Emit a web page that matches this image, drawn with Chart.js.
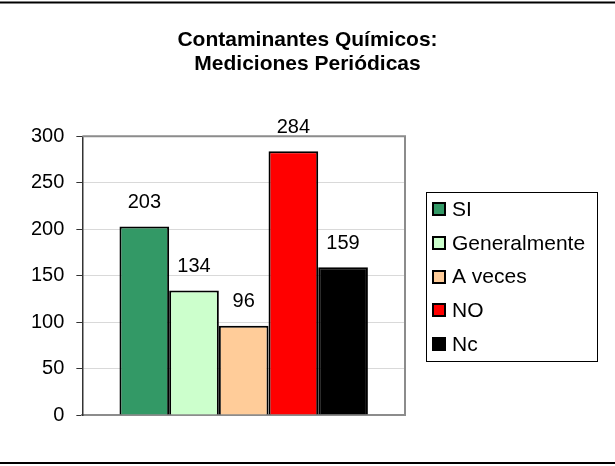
<!DOCTYPE html>
<html>
<head>
<meta charset="utf-8">
<script src="https://cdn.jsdelivr.net/npm/chart.js@4.4.0/dist/chart.umd.min.js"></script>
<style>
body { margin: 0; background: #fff; }
#wrap { width: 615px; height: 466px; position: relative; }
</style>
</head>
<body>
<div id="wrap"><canvas id="myChart"></canvas></div>
<script>
const titleLines = ['Contaminantes Químicos:', 'Mediciones Periódicas'];
const categories = [''];
const seriesNames = ['SI', 'Generalmente', 'A veces', 'NO', 'Nc'];
const seriesValues = [203, 134, 96, 284, 159];
const yTicks = [0, 50, 100, 150, 200, 250, 300];
const seriesColors = ['#339966', '#ccffcc', '#ffcc99', '#ff0000', '#000000'];

const font = '"Liberation Sans", Arial, sans-serif';
const axisGray = '#8c8c8c';

// title is centred on the whole canvas, not only the plot side
const wideTitle = {
    id: 'wideTitle',
    afterLayout(chart) {
        chart.titleBlock.left = 0;
        chart.titleBlock.right = chart.width;
        chart.titleBlock.width = chart.width;
    }
};

// excel-like legend in a box to the right of the plot
const boxLegend = {
    id: 'boxLegend',
    afterDraw(chart) {
        const { ctx, chartArea: a } = chart;
        const datasets = chart.data.datasets;
        const rowH = 33.7;
        const left = a.right + 21;
        const boxW = 171;
        const cy = (a.top + a.bottom) / 2 + 1;
        const top = cy - rowH * datasets.length / 2;
        ctx.save();
        ctx.strokeStyle = '#000';
        ctx.lineWidth = 1;
        ctx.strokeRect(left + 0.5, Math.round(top) + 0.5, boxW, Math.round(rowH * datasets.length));
        ctx.font = '21px ' + font;
        ctx.textBaseline = 'middle';
        ctx.textAlign = 'left';
        datasets.forEach((ds, i) => {
            const y = top + rowH * (i + 0.5);
            ctx.fillStyle = ds.backgroundColor;
            ctx.fillRect(left + 7, Math.round(y - 6), 12, 12);
            ctx.lineWidth = 2;
            ctx.strokeStyle = '#000';
            ctx.strokeRect(left + 7, Math.round(y - 6), 12, 12);
            ctx.fillStyle = '#000';
            ctx.fillText(ds.label, left + 26, y + 1);
        });
        ctx.restore();
    }
};

const decorations = {
    id: 'decorations',
    beforeDatasetsDraw(chart) {
        const { ctx, chartArea: a } = chart;
        ctx.save();
        ctx.strokeStyle = axisGray;
        ctx.lineWidth = 2;
        ctx.beginPath();
        ctx.moveTo(a.left, a.top);
        ctx.lineTo(a.right, a.top);
        ctx.lineTo(a.right, a.bottom);
        ctx.stroke();
        ctx.restore();
    },
    afterDraw(chart) {
        const { ctx, width } = chart;
        ctx.save();
        // outer frame lines
        ctx.strokeStyle = '#000';
        ctx.lineWidth = 2;
        ctx.beginPath();
        ctx.moveTo(0, 2.5);
        ctx.lineTo(width, 2.5);
        ctx.moveTo(0, 463);
        ctx.lineTo(width, 463);
        ctx.stroke();

        // value labels over the bars
        ctx.fillStyle = '#000';
        ctx.font = '20px ' + font;
        ctx.textAlign = 'center';
        ctx.textBaseline = 'middle';
        chart.data.datasets.forEach((ds, i) => {
            const meta = chart.getDatasetMeta(i);
            meta.data.forEach((bar, j) => {
                ctx.fillText(ds.data[j], bar.x, bar.y - 24);
            });
        });
        ctx.restore();
    }
};

const ctx = document.getElementById('myChart');
new Chart(ctx, {
    type: 'bar',
    data: {
        labels: categories,
        datasets: seriesNames.map((name, i) => ({
            label: name,
            data: [seriesValues[i]],
            backgroundColor: seriesColors[i],
            borderColor: '#000',
            borderWidth: 2,
            categoryPercentage: 0.77,
            barPercentage: 1
        }))
    },
    options: {
        responsive: true,
        maintainAspectRatio: false,
        animation: false,
        layout: {
            padding: { top: 28, right: 210, bottom: 51, left: 19 }
        },
        scales: {
            x: {
                grid: { display: false, drawTicks: false },
                border: { color: axisGray, width: 2 },
                ticks: { display: false }
            },
            y: {
                min: yTicks[0],
                max: yTicks[yTicks.length - 1],
                afterBuildTicks: axis => {
                    axis.ticks = yTicks.map(v => ({ value: v }));
                },
                grid: { color: '#d9d9d9', tickColor: '#333', tickLength: 6, lineWidth: 1 },
                border: { color: '#333', width: 1.5 },
                ticks: {
                    color: '#000',
                    padding: 12,
                    font: { family: font, size: 20 }
                }
            }
        },
        plugins: {
            title: {
                display: true,
                text: titleLines,
                color: '#000',
                font: { family: font, size: 21, weight: 'bold', lineHeight: 1.15 },
                padding: { top: 0, bottom: 60 }
            },
            legend: { display: false },
            tooltip: { enabled: false }
        }
    },
    plugins: [wideTitle, decorations, boxLegend]
});
</script>
</body>
</html>
